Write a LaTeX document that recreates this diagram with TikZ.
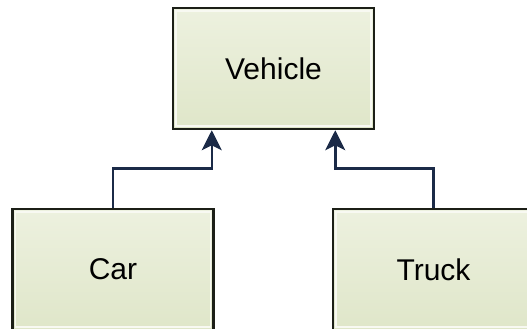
\documentclass[tikz,border=0pt]{standalone}
\usepackage{fontspec}
\setmainfont{Liberation Sans}
\usetikzlibrary{arrows.meta}
\definecolor{boxtop}{HTML}{EDF1DF}
\definecolor{boxbot}{HTML}{DFE6C9}
\definecolor{boxline}{HTML}{1C1F17}
\definecolor{conncol}{HTML}{1B2A47}
\begin{document}
\begin{tikzpicture}[x=1pt,y=1pt,
  classbox/.style={draw=boxline, line width=2.5pt, top color=boxtop, bottom color=boxbot,
    minimum width=201pt, minimum height=121pt, inner sep=0pt,
    font=\fontsize{30}{36}\selectfont,
    path picture={\draw[white!60!boxtop, line width=1.5pt]
      ([shift={(3pt,-3pt)}]path picture bounding box.north west) rectangle
      ([shift={(-3pt,3pt)}]path picture bounding box.south east);}},
  conn/.style={draw=conncol, line width=2.5pt, -{Stealth[length=20pt,width=20pt,inset=5pt]}}]
\useasboundingbox (0,0) rectangle (527,329);
\clip (0,0) rectangle (527,329);
\node[classbox] (veh) at (273.5,260.5) {Vehicle};
\node[classbox] (car) at (113,59.5) {Car};
\node[classbox] (truck) at (433.5,59.5) {Truck};
\draw[conn] (car.north) -- ++(0,39) -| ([xshift=40pt]veh.south west);
\draw[conn] (truck.north) -- ++(0,39) -| ([xshift=-40pt]veh.south east);
\end{tikzpicture}
\end{document}
